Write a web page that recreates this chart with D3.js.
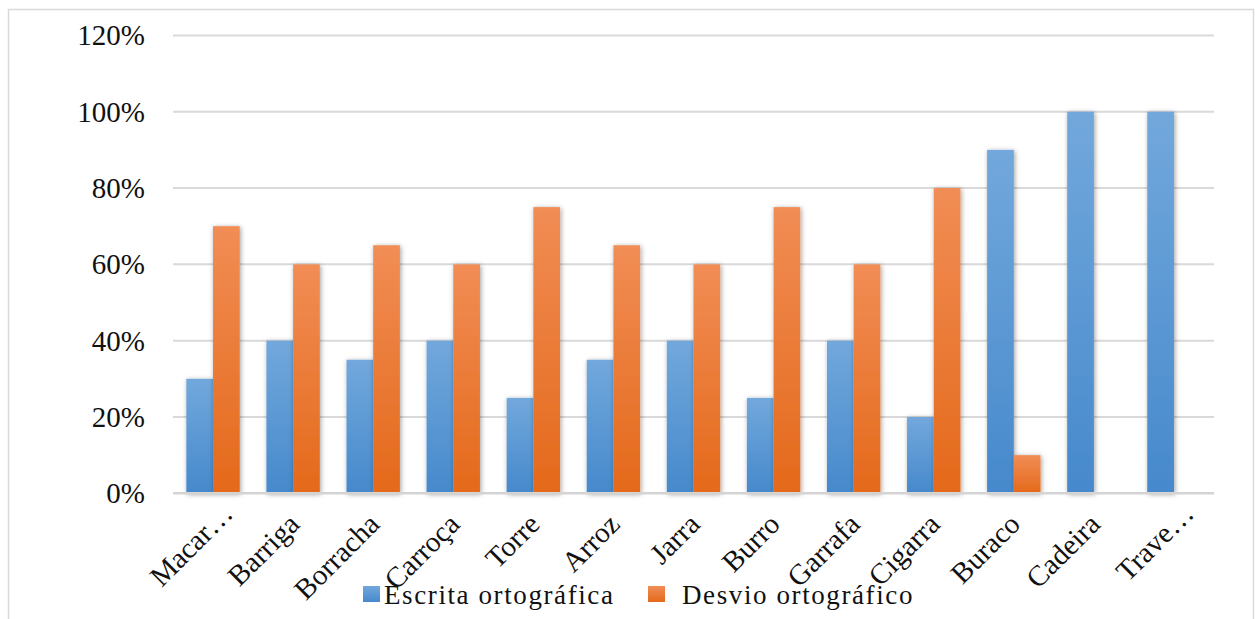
<!DOCTYPE html>
<html>
<head>
<meta charset="utf-8">
<script src="https://cdn.jsdelivr.net/npm/d3@7"></script>
<style>
  html, body { margin: 0; padding: 0; background: #fff; }
  svg { display: block; }
  text { font-family: "Liberation Serif", "Times New Roman", serif; fill: #111; }
</style>
</head>
<body>
<svg id="chart" width="1255" height="619"></svg>
<script>
// Word list and the share of each spelling outcome
const categories = ["Macar\u2026", "Barriga", "Borracha", "Carroça", "Torre", "Arroz", "Jarra",
                    "Burro", "Garrafa", "Cigarra", "Buraco", "Cadeira", "Trave\u2026"];
const escrita = [0.30, 0.40, 0.35, 0.40, 0.25, 0.35, 0.40, 0.25, 0.40, 0.20, 0.90, 1.00, 1.00];
const desvio  = [0.70, 0.60, 0.65, 0.60, 0.75, 0.65, 0.60, 0.75, 0.60, 0.80, 0.10, 0.00, 0.00];
const seriesNames = ["Escrita ortográfica", "Desvio ortográfico"];
const yTicks = [0, 0.2, 0.4, 0.6, 0.8, 1.0, 1.2];

const svg = d3.select("#chart");
const W = 1255, H = 619;
const plot = { left: 173, right: 1214, top: 35.4, bottom: 493.3 };

// Gradients and shadow
const defs = svg.append("defs");
function grad(id, top, bottom) {
  const g = defs.append("linearGradient").attr("id", id)
    .attr("x1", 0).attr("y1", 0).attr("x2", 0).attr("y2", 1);
  g.append("stop").attr("offset", "0%").attr("stop-color", top);
  g.append("stop").attr("offset", "100%").attr("stop-color", bottom);
}
grad("gBlue", "#72a8dc", "#4689cc");
grad("gOrange", "#f18d55", "#e4691a");
const f = defs.append("filter").attr("id", "shadow")
  .attr("x", "-50%").attr("y", "-10%").attr("width", "200%").attr("height", "120%");
f.append("feDropShadow").attr("dx", 1).attr("dy", 1).attr("stdDeviation", 2.6)
  .attr("flood-color", "#000").attr("flood-opacity", 0.38);

svg.append("rect").attr("width", W).attr("height", H).attr("fill", "#fff");
// Chart frame
svg.append("rect").attr("x", 8.5).attr("y", 9.5).attr("width", 1245).attr("height", 640)
  .attr("fill", "none").attr("stroke", "#d9d9d9").attr("stroke-width", 1.5);

const x = d3.scaleBand().domain(categories).range([plot.left, plot.right]).paddingInner(0).paddingOuter(0);
const xs = d3.scaleBand().domain([0, 1]).range([0, x.bandwidth()]).paddingInner(0).paddingOuter(0.5);
const y = d3.scaleLinear().domain([0, 1.2]).range([plot.bottom, plot.top]);

// Horizontal gridlines
svg.append("g").selectAll("line").data(yTicks.filter(d => d > 0)).join("line")
  .attr("x1", plot.left).attr("x2", plot.right)
  .attr("y1", d => y(d)).attr("y2", d => y(d))
  .attr("stroke", "#d9d9d9").attr("stroke-width", 2);

// Y axis labels
const yAxis = d3.axisLeft(y).tickValues(yTicks).tickSize(0).tickPadding(0)
  .tickFormat(d => Math.round(d * 100) + "%");
const ya = svg.append("g").attr("transform", `translate(145,0)`).call(yAxis);
ya.select(".domain").remove();
ya.selectAll("text").attr("font-size", 29).attr("font-family", "Liberation Serif, serif")
  .attr("fill", "#111").attr("dy", "0.33em");

// Bars
const series = [escrita, desvio];
const fills = ["url(#gBlue)", "url(#gOrange)"];
const groups = svg.append("g").selectAll("g").data(series).join("g")
  .attr("fill", (d, i) => fills[i]).attr("filter", "url(#shadow)");
groups.selectAll("rect").data((vals, si) => vals.map((v, ci) => ({ v, ci, si }))).join("rect")
  .filter(d => d.v > 0)
  .attr("x", d => x(categories[d.ci]) + xs(d.si))
  .attr("width", xs.bandwidth())
  .attr("y", d => y(d.v))
  .attr("height", d => y(0) - y(d.v));

// Baseline
svg.append("line").attr("x1", plot.left).attr("x2", plot.right)
  .attr("y1", y(0)).attr("y2", y(0))
  .attr("stroke", "#d4d4d4").attr("stroke-width", 2.5);

// Category labels, rotated
svg.append("g").selectAll("text").data(categories).join("text")
  .attr("transform", d => {
    const c = x(d) + x.bandwidth() / 2;
    const shift = d.endsWith("\u2026") ? 18 : 0;
    return `translate(${c + 8 + shift * 0.75},${526 - shift * 0.6}) rotate(-45)`;
  })
  .attr("text-anchor", "end")
  .attr("font-size", 29)
  .text(d => d);

// Legend
const legendItems = [
  { name: seriesNames[0], fill: "url(#gBlue)", sx: 363, tx: 384 },
  { name: seriesNames[1], fill: "url(#gOrange)", sx: 648, tx: 682 }
];
const lg = svg.append("g");
lg.selectAll("rect").data(legendItems).join("rect")
  .attr("x", d => d.sx).attr("y", 586).attr("width", 17).attr("height", 16)
  .attr("fill", d => d.fill);
lg.selectAll("text").data(legendItems).join("text")
  .attr("x", d => d.tx).attr("y", 604)
  .attr("font-size", 27).attr("letter-spacing", 1.6)
  .text(d => d.name);
</script>
</body>
</html>
